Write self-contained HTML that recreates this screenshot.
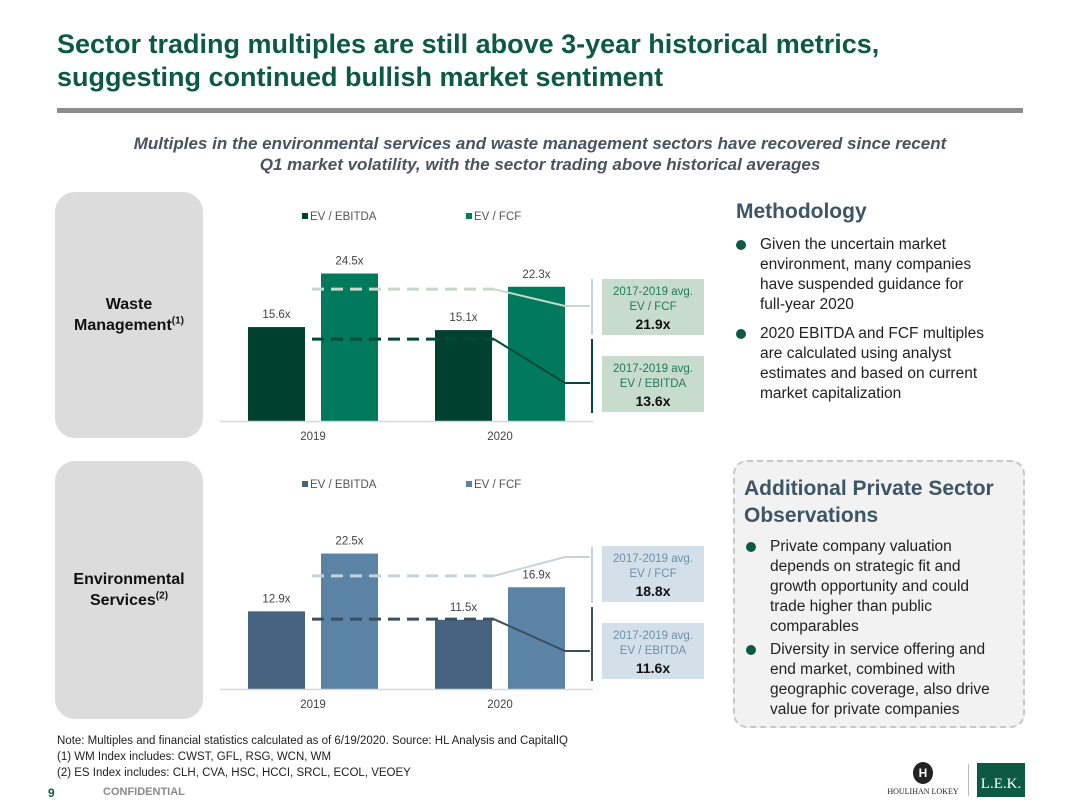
<!DOCTYPE html>
<html><head><meta charset="utf-8"><style>
*{margin:0;padding:0;box-sizing:border-box}
body{width:1080px;height:810px;background:#fff;font-family:"Liberation Sans",Arial,sans-serif;position:relative;overflow:hidden}
.abs{position:absolute}
h1{position:absolute;left:57px;top:28px;font-size:27px;line-height:33px;color:#0d5a44;font-weight:bold}
.side{position:absolute;left:55px;width:148px;background:#dcdcdc;border-radius:20px;display:flex;align-items:center;justify-content:center;text-align:center;font-weight:bold;font-size:16px;line-height:21px;color:#111}
.side sup{font-size:10px;line-height:0}
.lbl{position:absolute;width:102px;text-align:center;font-size:11.5px;line-height:15px;padding-top:6px}
.lbl b{font-size:14px;color:#111;display:block;line-height:18px}
ul{list-style:none}
li{position:relative;padding-left:27px;font-size:15.5px;line-height:20px;color:#222;margin-bottom:9px}
li:before{content:"";position:absolute;left:3px;top:5px;width:10px;height:10px;border-radius:50%;background:#0d5a44}
</style></head><body>
<h1>Sector trading multiples are still above 3-year historical metrics,<br>suggesting continued bullish market sentiment</h1>
<div class="abs" style="left:57px;top:108px;width:966px;height:5px;background:#8c8c8c"></div>
<div class="abs" style="left:40px;top:133px;width:1000px;text-align:center;font-size:17px;line-height:21px;font-weight:bold;font-style:italic;color:#4a5360">Multiples in the environmental services and waste management sectors have recovered since recent<br>Q1 market volatility, with the sector trading above historical averages</div>

<div class="side" style="top:192px;height:246px"><div>Waste<br>Management<sup>(1)</sup></div></div>
<div class="side" style="top:461px;height:258px"><div>Environmental<br>Services<sup>(2)</sup></div></div>

<svg class="abs" style="left:0;top:0" width="1080" height="810" id="charts"></svg>

<div class="lbl" style="left:602px;top:279px;height:56px;background:#c8dccd;color:#1f7a5c">2017-2019 avg.<br>EV / FCF<b>21.9x</b></div>
<div class="lbl" style="left:602px;top:356px;height:56px;background:#c8dccd;color:#1f7a5c">2017-2019 avg.<br>EV / EBITDA<b>13.6x</b></div>
<div class="lbl" style="left:602px;top:546px;height:56px;background:#d3e0ea;color:#6f8ea8">2017-2019 avg.<br>EV / FCF<b>18.8x</b></div>
<div class="lbl" style="left:602px;top:623px;height:56px;background:#d3e0ea;color:#6f8ea8">2017-2019 avg.<br>EV / EBITDA<b>11.6x</b></div>

<div class="abs" style="left:736px;top:200px;font-size:21px;font-weight:bold;color:#3d5566">Methodology</div>
<ul class="abs" style="left:733px;top:235px;width:265px">
<li>Given the uncertain market environment, many companies have suspended guidance for <span style="white-space:nowrap">full-year</span> 2020</li>
<li>2020 EBITDA and FCF multiples are calculated using analyst estimates and based on current market capitalization</li>
</ul>
<div class="abs" style="left:733px;top:460px;width:292px;height:268px;background:#f2f2f2;border:2px dashed #c8c8c8;border-radius:14px"></div>
<div class="abs" style="left:744px;top:475px;font-size:21px;line-height:27px;font-weight:bold;color:#3d5566">Additional Private Sector<br>Observations</div>
<ul class="abs" style="left:743px;top:537px;width:265px">
<li style="margin-bottom:3px">Private company valuation depends on strategic fit and growth opportunity and could trade higher than public comparables</li>
<li>Diversity in service offering and end market, combined with geographic coverage, also drive value for private companies</li>
</ul>

<div class="abs" style="left:57px;top:733px;font-size:11.5px;line-height:16px;color:#222">Note: Multiples and financial statistics calculated as of 6/19/2020. Source: HL Analysis and CapitalIQ<br>(1) WM Index includes: CWST, GFL, RSG, WCN, WM<br>(2) ES Index includes: CLH, CVA, HSC, HCCI, SRCL, ECOL, VEOEY</div>
<div class="abs" style="left:48px;top:786px;font-size:12px;font-weight:bold;color:#0d5a44">9</div>
<div class="abs" style="left:103px;top:786px;font-size:11px;font-weight:bold;color:#8a8a8a">CONFIDENTIAL</div>
<div class="abs" style="left:883px;top:762px;width:80px;text-align:center">
<div style="width:20px;height:22px;border-radius:50%;background:#222;margin:0 auto;color:#fff;font-size:12px;font-weight:bold;line-height:22px">H</div>
<div style="font-family:'Liberation Serif',serif;font-size:8px;color:#222;margin-top:3px">HOULIHAN LOKEY</div></div>
<div class="abs" style="left:968px;top:764px;width:1px;height:32px;background:#bbb"></div>
<div class="abs" style="left:977px;top:763px;width:48px;height:34px;background:#0d5a44;color:#fff;font-family:'Liberation Serif',serif;font-size:15px;text-align:center;line-height:42px">L.E.K.</div>

<script>
const years=["2019","2020"];
const wasteEbitda=[15.6,15.1];
const wasteFcf=[24.5,22.3];
const wasteAvg=[21.9,13.6];
const envEbitda=[12.9,11.5];
const envFcf=[22.5,16.9];
const envAvg=[18.8,11.6];
const NS="http://www.w3.org/2000/svg";
const svg=document.getElementById('charts');
function mk(t,a,txt){const e=document.createElementNS(NS,t);for(const k in a)e.setAttribute(k,a[k]);if(txt!==undefined)e.textContent=txt;svg.appendChild(e);return e;}
function chart(base,ebitda,fcf,avg,c1,c2,la,lb,endF,endE,pre){
  const sc=6.02; const y=v=>base-v*sc;
  const gx=[248,435];
  let e=mk('rect',{x:302,y:base-208,width:6,height:6,fill:c1});
  
  e=mk('text',{x:310,y:base-201,'font-size':11.5,fill:'#555'},'EV / EBITDA');
  
  e=mk('rect',{x:466,y:base-208,width:6,height:6,fill:c2});
  
  e=mk('text',{x:474,y:base-201,'font-size':11.5,fill:'#555'},'EV / FCF');
  
  years.forEach((yr,i)=>{
    const x=gx[i];
    e=mk('rect',{x:x,y:y(ebitda[i]),width:57,height:ebitda[i]*sc,fill:c1});
    
    e=mk('text',{x:x+28.5,y:y(ebitda[i])-9,'font-size':11.5,fill:'#444','text-anchor':'middle'},ebitda[i].toFixed(1)+'x');
    
    e=mk('rect',{x:x+73,y:y(fcf[i]),width:57,height:fcf[i]*sc,fill:c2});
    
    e=mk('text',{x:x+101.5,y:y(fcf[i])-9,'font-size':11.5,fill:'#444','text-anchor':'middle'},fcf[i].toFixed(1)+'x');
    
    e=mk('text',{x:x+65,y:base+19,'font-size':11.5,fill:'#444','text-anchor':'middle'},yr);
    
  });
  e=mk('line',{x1:220,x2:593,y1:base+0.5,y2:base+0.5,stroke:'#d8d8d8','stroke-width':1.5});
  
  const lines=[[avg[0],la,endF],[avg[1],lb,endE]];
  lines.forEach((L,j)=>{
    const yy=y(L[0]);
    e=mk('line',{x1:312,x2:494,y1:yy,y2:yy,stroke:L[1],'stroke-width':3,'stroke-dasharray':'12,7'});
    
    e=mk('polyline',{points:`494,${yy} 565,${L[2]} 590,${L[2]}`,fill:'none',stroke:L[1],'stroke-width':2});
    
    e=mk('line',{x1:592,x2:592,y1:base-(j?82:142),y2:base-(j?8:86),stroke:L[1],'stroke-width':2});
    
  });
}
chart(421,wasteEbitda,wasteFcf,wasteAvg,'#00402e','#00795c','#c8d8cc','#004a38',306,383,'waste');
chart(689,envEbitda,envFcf,envAvg,'#46647f','#5a83a6','#c5d3de','#3b4f60',557,651,'env');
</script>
</body></html>
